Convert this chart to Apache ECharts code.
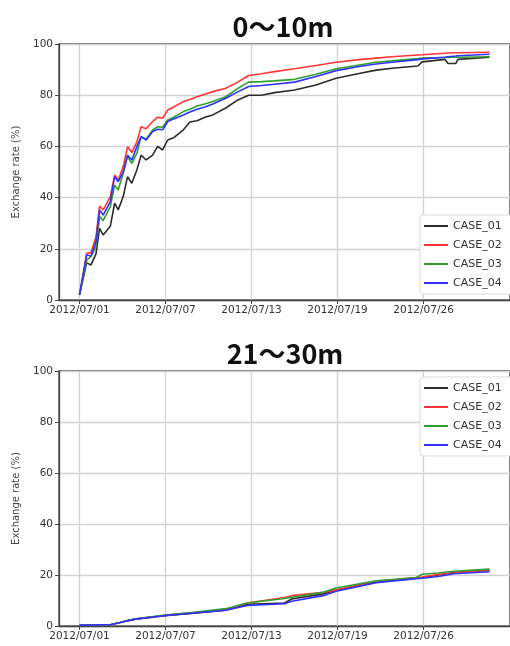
<!DOCTYPE html>
<html>
<head>
<meta charset="utf-8">
<title>Exchange rate</title>
<script src="https://cdn.jsdelivr.net/npm/echarts@6/dist/echarts.min.js"></script>
<style>
    html, body { margin: 0; padding: 0; background: #fff; }
    #chart { width: 510px; height: 646px; }
</style>
</head>
<body>
<div id="chart"></div>
<script>
// x ticks (days from 2012/07/01) and their labels
var tickDays = [0, 6, 12, 18, 24];
var tickLabels = ['2012/07/01', '2012/07/07', '2012/07/13', '2012/07/19', '2012/07/26'];
var caseNames = ['CASE_01', 'CASE_02', 'CASE_03', 'CASE_04'];
var caseColors = ['#2b2b2b', '#ff3535', '#2fa02f', '#3030ff'];

// 0~10m
var topDays = [0, 0.5, 0.8, 1.15, 1.4, 1.65, 2.15, 2.45, 2.7, 3.05, 3.35, 3.65, 4.0, 4.3, 4.65, 5.1, 5.45, 5.8, 6.15, 6.6, 7.25, 7.7, 8.2, 8.8, 9.3, 10.2, 11.0, 11.8, 12.7, 13.6, 15.0, 16.5, 17.9, 19.5, 20.7, 21.8, 23.6, 23.9, 25.5, 25.7, 26.25, 26.4, 28.6];
var topCase01 = [2, 14.5, 13.7, 18, 28, 25.4, 28.8, 37.8, 35.2, 40.4, 48.2, 45.6, 50.8, 56.6, 54.7, 56.6, 60, 58.6, 62.5, 63.5, 66.5, 69.5, 70, 71.5, 72.3, 75, 78, 80, 80, 81, 82, 84, 86.6, 88.5, 89.8, 90.5, 91.4, 93, 94, 92.4, 92.4, 94, 94.8];
var topCase02 = [2, 18.2, 18.5, 24.7, 36.7, 35.2, 40.4, 48.8, 46.9, 52.1, 59.9, 57.6, 61.8, 67.7, 66.9, 69.7, 71.4, 71, 74.2, 75.5, 77.5, 78.3, 79.4, 80.5, 81.4, 82.7, 85, 87.7, 88.4, 89.2, 90.3, 91.6, 92.9, 93.9, 94.5, 95, 95.7, 95.8, 96.4, 96.5, 96.6, 96.6, 96.8];
var topCase03 = [2, 15.6, 16.9, 20.8, 32.6, 31, 36.5, 44.9, 43, 49.5, 56, 53.4, 57.3, 63.8, 62.8, 66.4, 67.7, 67.5, 70.3, 71.5, 73.6, 74.5, 75.8, 76.7, 77.5, 79.4, 82.5, 85.1, 85.3, 85.6, 86.2, 88.2, 90.3, 91.8, 92.9, 93.4, 94.3, 94.5, 94.7, 94.7, 94.8, 94.8, 95];
var topCase04 = [2, 17.6, 17.2, 22.8, 35.2, 33.2, 38.4, 48.2, 46.2, 50.1, 56.6, 54.7, 59.9, 63.8, 62.5, 65.8, 66.7, 66.5, 69.7, 70.8, 72.3, 73.4, 74.5, 75.5, 76.6, 78.8, 81.2, 83.4, 83.8, 84.3, 85.1, 87.3, 89.6, 91.2, 92.2, 92.9, 93.9, 94.2, 94.8, 95, 95.3, 95.4, 96];

// 21~30m
var botDays = [0, 2.2, 2.7, 3.2, 3.9, 6.0, 8.0, 10.2, 11.7, 14.3, 14.8, 17.0, 17.9, 20.7, 23.5, 23.9, 25.0, 26.1, 28.6];
var botCase01 = [0.3, 0.6, 1.2, 1.9, 2.7, 4.0, 5.0, 6.2, 8.5, 9.0, 10.6, 12.6, 14.1, 17.2, 18.8, 19.0, 20.0, 21.0, 21.8];
var botCase02 = [0.3, 0.6, 1.2, 1.9, 2.7, 4.2, 5.3, 6.4, 9.0, 11.2, 11.9, 13.2, 14.1, 17.4, 19.0, 19.2, 20.2, 20.8, 22.0];
var botCase03 = [0.3, 0.6, 1.2, 1.9, 2.8, 4.3, 5.4, 6.8, 9.0, 10.8, 11.3, 13.2, 14.9, 17.7, 19.0, 20.3, 20.8, 21.5, 22.3];
var botCase04 = [0.3, 0.6, 1.2, 1.9, 2.7, 4.1, 5.1, 6.2, 8.1, 8.7, 9.7, 11.9, 13.6, 17.0, 18.5, 18.7, 19.4, 20.5, 21.3];

var chart = echarts.init(document.getElementById('chart'));

function pairs(days, vals) {
    var out = [];
    for (var i = 0; i < days.length; i++) {
        out.push([days[i], vals[i]]);
    }
    return out;
}

function xAxisFor(idx) {
    return {
        type: 'value',
        gridIndex: idx,
        min: -1.43,
        max: 30.03,
        axisLine: { show: true, onZero: false, lineStyle: { color: '#444', width: 1.3 } },
        axisTick: { show: true, customValues: tickDays, length: 4, lineStyle: { color: '#444' } },
        axisLabel: {
            customValues: tickDays,
            color: '#333',
            fontFamily: 'DejaVu Sans',
            fontSize: 10.5,
            margin: 5,
            formatter: function (v) { return tickLabels[tickDays.indexOf(v)]; }
        },
        splitLine: { show: true, lineStyle: { color: '#d2d2d2', width: 1.3 } }
    };
}

function yAxisFor(idx) {
    return {
        type: 'value',
        gridIndex: idx,
        min: 0,
        max: 100,
        interval: 20,
        name: 'Exchange rate (%)',
        nameLocation: 'middle',
        nameGap: 38,
        nameTextStyle: { color: '#444', fontFamily: 'DejaVu Sans', fontSize: 10 },
        axisLine: { show: true, onZero: false, lineStyle: { color: '#444', width: 1.3 } },
        axisTick: { show: true, length: 4, lineStyle: { color: '#444' } },
        axisLabel: { color: '#333', fontFamily: 'DejaVu Sans', fontSize: 10.5, margin: 6 },
        splitLine: { show: true, lineStyle: { color: '#d2d2d2', width: 1.3 } }
    };
}

function legendFor(top) {
    return {
        orient: 'vertical',
        left: 420,
        top: top,
        data: caseNames,
        icon: 'path://M0,0 L24,0 L24,2 L0,2 Z',
        itemWidth: 24,
        itemHeight: 2,
        itemGap: 5,
        padding: [4, 40, 4, 4],
        borderColor: '#dcdcdc',
        borderWidth: 1,
        borderRadius: 3,
        backgroundColor: '#fff',
        textStyle: { color: '#333', fontFamily: 'DejaVu Sans', fontSize: 11, lineHeight: 14 }
    };
}

var topSets = [topCase01, topCase02, topCase03, topCase04];
var botSets = [botCase01, botCase02, botCase03, botCase04];
var series = [];
for (var i = 0; i < caseNames.length; i++) {
    series.push({
        name: caseNames[i], type: 'line', xAxisIndex: 0, yAxisIndex: 0,
        data: pairs(topDays, topSets[i]), symbol: 'none',
        lineStyle: { width: 1.6, color: caseColors[i] }, itemStyle: { color: caseColors[i] }
    });
}
for (var j = 0; j < caseNames.length; j++) {
    series.push({
        name: caseNames[j], type: 'line', xAxisIndex: 1, yAxisIndex: 1,
        data: pairs(botDays, botSets[j]), symbol: 'none',
        lineStyle: { width: 1.6, color: caseColors[j] }, itemStyle: { color: caseColors[j] }
    });
}

var option = {
    animation: false,
    title: [
        { text: '0～10m', left: 278, top: 8, textAlign: 'center',
          textStyle: { fontFamily: 'Noto Sans CJK JP', fontWeight: 'bold', fontSize: 27, color: '#111' } },
        { text: '21～30m', left: 280, top: 335, textAlign: 'center',
          textStyle: { fontFamily: 'Noto Sans CJK JP', fontWeight: 'bold', fontSize: 27, color: '#111' } }
    ],
    legend: [legendFor(215), legendFor(377)],
    grid: [
        { left: 59, right: -10, top: 44, height: 256, show: true, borderColor: '#444', borderWidth: 1.3 },
        { left: 59, right: -10, top: 371, height: 255, show: true, borderColor: '#444', borderWidth: 1.3 }
    ],
    xAxis: [xAxisFor(0), xAxisFor(1)],
    yAxis: [yAxisFor(0), yAxisFor(1)],
    series: series
};

chart.setOption(option);
</script>
</body>
</html>
